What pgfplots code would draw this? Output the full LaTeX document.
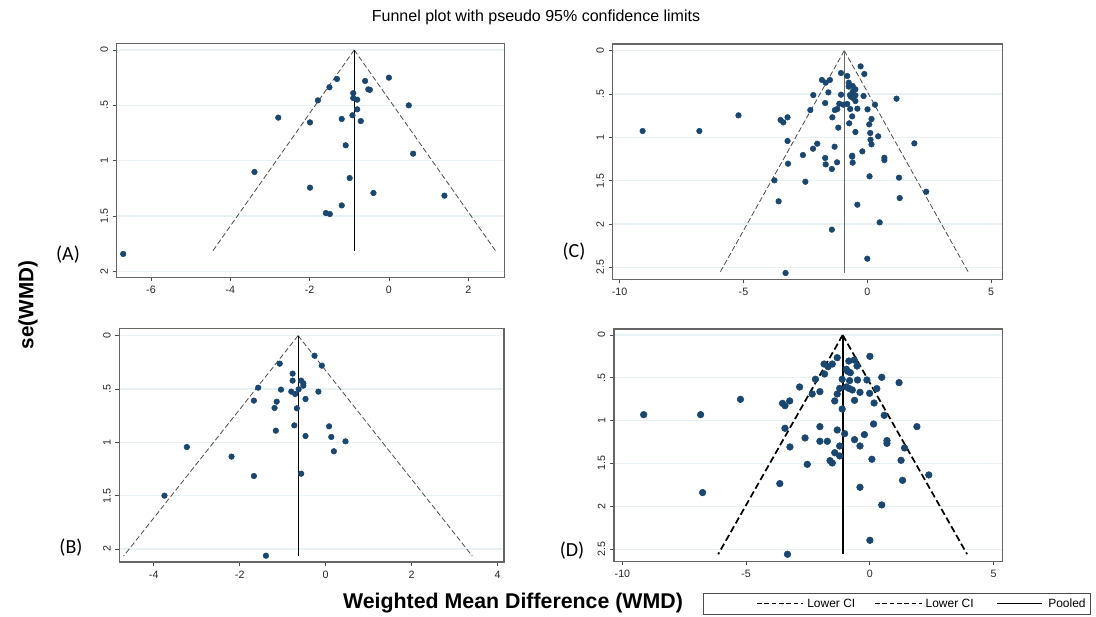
\documentclass[border=0pt]{standalone}
\usepackage{fontspec}
\setmainfont{Liberation Sans}
\newfontfamily\calib{Carlito}
\usepackage{pgfplots}
\pgfplotsset{compat=1.18}
\usepackage{pgfplotstable}

\definecolor{navy}{RGB}{26,71,111}
\definecolor{gridc}{RGB}{232,241,243}
\newcommand\tickfont{\fontsize{8}{9}\selectfont}

% study estimates: WMD (x) and its standard error (y)
\pgfplotstableread{
x y
-1.31 0.262
0.00 0.250
-0.60 0.280
-1.50 0.337
-0.52 0.356
-0.48 0.360
-0.90 0.390
-1.79 0.455
-0.90 0.434
-0.80 0.449
0.50 0.500
-0.80 0.536
-0.92 0.590
-2.79 0.611
-1.19 0.623
-1.99 0.654
-0.71 0.642
-1.09 0.861
0.61 0.937
-3.39 1.102
-0.99 1.157
-1.99 1.244
-0.39 1.292
1.40 1.316
-1.19 1.404
-1.59 1.473
-1.49 1.482
-6.70 1.843
}\dataA

\pgfplotstableread{
x y
-0.26 0.188
-1.07 0.263
-0.09 0.281
-0.77 0.356
-0.77 0.422
-0.57 0.422
-0.52 0.447
-0.52 0.469
-1.57 0.488
-1.04 0.506
-0.63 0.503
-0.80 0.525
-0.17 0.525
-0.71 0.547
-0.47 0.594
-1.67 0.609
-1.14 0.619
-1.19 0.678
-0.67 0.681
-0.73 0.841
0.08 0.850
-1.16 0.891
-0.47 0.941
0.13 0.950
0.46 0.991
-3.23 1.044
0.19 1.084
-2.19 1.134
-0.57 1.294
-1.67 1.316
-3.75 1.500
-1.39 2.063
}\dataB

\pgfplotstableread{
x y
-0.27 0.181
-0.12 0.269
-1.06 0.258
-0.81 0.292
-1.83 0.338
-1.68 0.369
-1.51 0.338
-0.75 0.369
-0.75 0.415
-0.59 0.408
-0.48 0.446
-0.59 0.473
-1.57 0.481
-2.18 0.512
-1.06 0.508
-0.70 0.512
-0.48 0.515
-0.57 0.546
-0.66 0.531
-0.15 0.523
1.18 0.554
-0.48 0.581
-1.70 0.604
-1.13 0.612
-0.97 0.623
-0.81 0.615
0.31 0.623
-2.30 0.685
-1.31 0.685
-1.21 0.673
-0.69 0.673
-0.40 0.669
0.01 0.677
-5.20 0.746
-3.22 0.769
-1.41 0.769
-0.61 0.758
0.17 0.788
-3.50 0.800
-3.39 0.827
0.08 0.850
-0.73 0.838
-1.17 0.888
-0.48 0.938
0.12 0.950
-9.07 0.927
-6.78 0.927
0.44 0.988
0.13 1.027
-3.22 1.042
0.17 1.081
1.90 1.069
-2.02 1.073
-1.32 1.108
-2.19 1.131
-0.20 1.162
-2.60 1.204
-0.61 1.212
-0.61 1.223
-1.70 1.238
0.69 1.235
0.69 1.262
-0.59 1.292
-1.22 1.288
-3.20 1.304
-1.68 1.312
-1.43 1.365
0.09 1.450
1.28 1.465
-3.75 1.496
-2.50 1.512
2.38 1.627
1.31 1.700
-3.58 1.738
-0.40 1.777
0.50 1.981
-1.43 2.065
0.00 2.400
-3.30 2.565
}\dataC

\pgfplotstableread{
x y
0.00 0.249
-1.32 0.265
-0.85 0.304
-0.63 0.292
-1.85 0.339
-1.52 0.339
-1.69 0.370
-0.52 0.362
-0.95 0.400
-0.90 0.424
-0.79 0.440
-1.83 0.455
0.48 0.494
-2.20 0.517
-1.12 0.517
-0.82 0.533
-0.50 0.525
-0.12 0.525
1.18 0.556
-2.84 0.607
-1.22 0.623
-0.95 0.607
-0.85 0.623
-0.71 0.642
0.28 0.626
-2.02 0.661
-2.33 0.689
-1.32 0.689
-0.40 0.669
-0.01 0.681
-5.23 0.751
-3.24 0.770
-3.53 0.798
-3.43 0.825
-1.42 0.770
-0.62 0.763
0.17 0.794
-1.12 0.864
-9.14 0.930
-6.84 0.930
0.58 0.938
0.15 1.039
1.90 1.070
-3.43 1.089
-2.02 1.070
-1.32 1.109
-1.02 1.152
-0.22 1.163
-2.62 1.202
-0.62 1.222
0.69 1.233
0.69 1.265
-2.02 1.241
-1.72 1.241
-1.22 1.296
-0.40 1.296
-3.23 1.307
1.40 1.319
-1.42 1.374
-1.22 1.412
0.08 1.451
-1.61 1.467
-1.52 1.494
1.26 1.463
-2.53 1.510
2.38 1.634
1.32 1.697
-3.64 1.735
-0.40 1.778
-6.76 1.840
0.48 1.984
0.00 2.397
-3.33 2.560
}\dataD

\pgfplotsset{
  /pgf/number format/assume math mode=true,
  funnel/.style={
    scale only axis, anchor=north west, y dir=reverse, clip=false,
    axis line style={draw=black!60, line width=0.8pt},
    tick align=outside, tick pos=left, major tick length=3pt,
    tick style={black!70, line width=0.6pt},
    ymajorgrids, grid style={draw=gridc, line width=0.9pt},
    ticklabel style={font=\tickfont, text=black!85},
    yticklabel style={rotate=90, anchor=south},
  },
  pts/.style={only marks, mark=*, mark size=2.1pt,
    mark options={draw=navy, fill=navy}},
  ci/.style={black!70, line width=0.6pt, dash pattern=on 4pt off 2pt},
  pooled/.style={black, line width=0.7pt},
}

\begin{document}
\begin{tikzpicture}
\path[use as bounding box] (0,0) rectangle (822pt,-462.75pt);

% (A)
\begin{axis}[funnel, at={(87.5pt,-32.5pt)}, width=291.2pt, height=175.5pt,
  xmin=-6.865, xmax=2.925, ymin=-0.06, ymax=2.054,
  xtick={-6,-4,-2,0,2}, ytick={0,0.5,1,1.5,2}, yticklabels={0,.5,1,1.5,2}]
\addplot[ci] coordinates {(-0.875,0) (-4.45,1.82)};
\addplot[ci] coordinates {(-0.875,0) (2.70,1.82)};
\addplot[pooled] coordinates {(-0.875,0) (-0.875,1.82)};
\addplot[pts] table {\dataA};
\end{axis}

% (B)
\begin{axis}[funnel, at={(89.5pt,-246.2pt)}, width=288.5pt, height=175.3pt,
  xmin=-4.80, xmax=4.147, ymin=-0.069, ymax=2.122,
  xtick={-4,-2,0,2,4}, ytick={0,0.5,1,1.5,2}, yticklabels={0,.5,1,1.5,2}]
\addplot[ci] coordinates {(-0.643,0) (-4.70,2.066)};
\addplot[ci] coordinates {(-0.643,0) (3.41,2.066)};
\addplot[pooled] coordinates {(-0.643,0) (-0.643,2.066)};
\addplot[pts] table {\dataB};
\end{axis}

% (C)
\begin{axis}[funnel, at={(459.5pt,-33pt)}, width=292.2pt, height=176.5pt,
  xmin=-10.28, xmax=5.45, ymin=-0.077, ymax=2.638,
  xtick={-10,-5,0,5}, ytick={0,0.5,1,1.5,2,2.5}, yticklabels={0,.5,1,1.5,2,2.5}]
\addplot[ci] coordinates {(-0.93,0) (-5.95,2.56)};
\addplot[ci] coordinates {(-0.93,0) (4.09,2.56)};
\addplot[black!60, line width=0.9pt] coordinates {(-0.93,0) (-0.93,2.56)};
\addplot[pts] table {\dataC};
\end{axis}

% (D)
\begin{axis}[funnel, at={(460.5pt,-246.75pt)}, width=291.2pt, height=174.2pt,
  xmin=-10.34, xmax=5.35, ymin=-0.07, ymax=2.642,
  xtick={-10,-5,0,5}, ytick={0,0.5,1,1.5,2,2.5}, yticklabels={0,.5,1,1.5,2,2.5}]
\addplot[black, line width=1.3pt, dash pattern=on 5pt off 2.5pt] coordinates {(-1.10,0) (-6.13,2.56)};
\addplot[black, line width=1.3pt, dash pattern=on 5pt off 2.5pt] coordinates {(-1.10,0) (3.93,2.56)};
\addplot[black, line width=1.3pt] coordinates {(-1.10,0) (-1.10,2.56)};
\addplot[pts, mark size=2.5pt] table {\dataD};
\end{axis}

% titles and labels
\node[font=\fontsize{12}{14}\selectfont] at (402pt,-12.75pt) {Funnel plot with pseudo 95\% confidence limits};
\node[font=\calib\fontsize{15}{17}\selectfont] at (51pt,-191.25pt) {(A)};
\node[font=\calib\fontsize{15}{17}\selectfont] at (53.25pt,-411pt) {(B)};
\node[font=\calib\fontsize{15}{17}\selectfont] at (430.5pt,-189pt) {(C)};
\node[font=\calib\fontsize{15}{17}\selectfont] at (429pt,-413.25pt) {(D)};
\node[font=\bfseries\fontsize{15.5}{17}\selectfont, rotate=90] at (21pt,-228.75pt) {se(WMD)};
\node[font=\bfseries\fontsize{16}{18}\selectfont] at (384.75pt,-452.25pt) {Weighted Mean Difference (WMD)};

% legend
\draw[black!70, line width=0.6pt] (527.25pt,-444.75pt) rectangle (817.5pt,-460.5pt);
\draw[black, line width=0.5pt, dash pattern=on 3.5pt off 2pt] (567.75pt,-452.6pt) -- (602.25pt,-452.6pt);
\node[anchor=west, inner sep=0pt, font=\fontsize{9}{10}\selectfont] at (605.25pt,-452.6pt) {Lower CI};
\draw[black, line width=0.5pt, dash pattern=on 3.5pt off 2pt] (656.25pt,-452.6pt) -- (691.5pt,-452.6pt);
\node[anchor=west, inner sep=0pt, font=\fontsize{9}{10}\selectfont] at (694pt,-452.6pt) {Lower CI};
\draw[black, line width=0.5pt] (747.75pt,-452.6pt) -- (781.5pt,-452.6pt);
\node[anchor=west, inner sep=0pt, font=\fontsize{9}{10}\selectfont] at (786pt,-452.6pt) {Pooled};
\end{tikzpicture}
\end{document}
